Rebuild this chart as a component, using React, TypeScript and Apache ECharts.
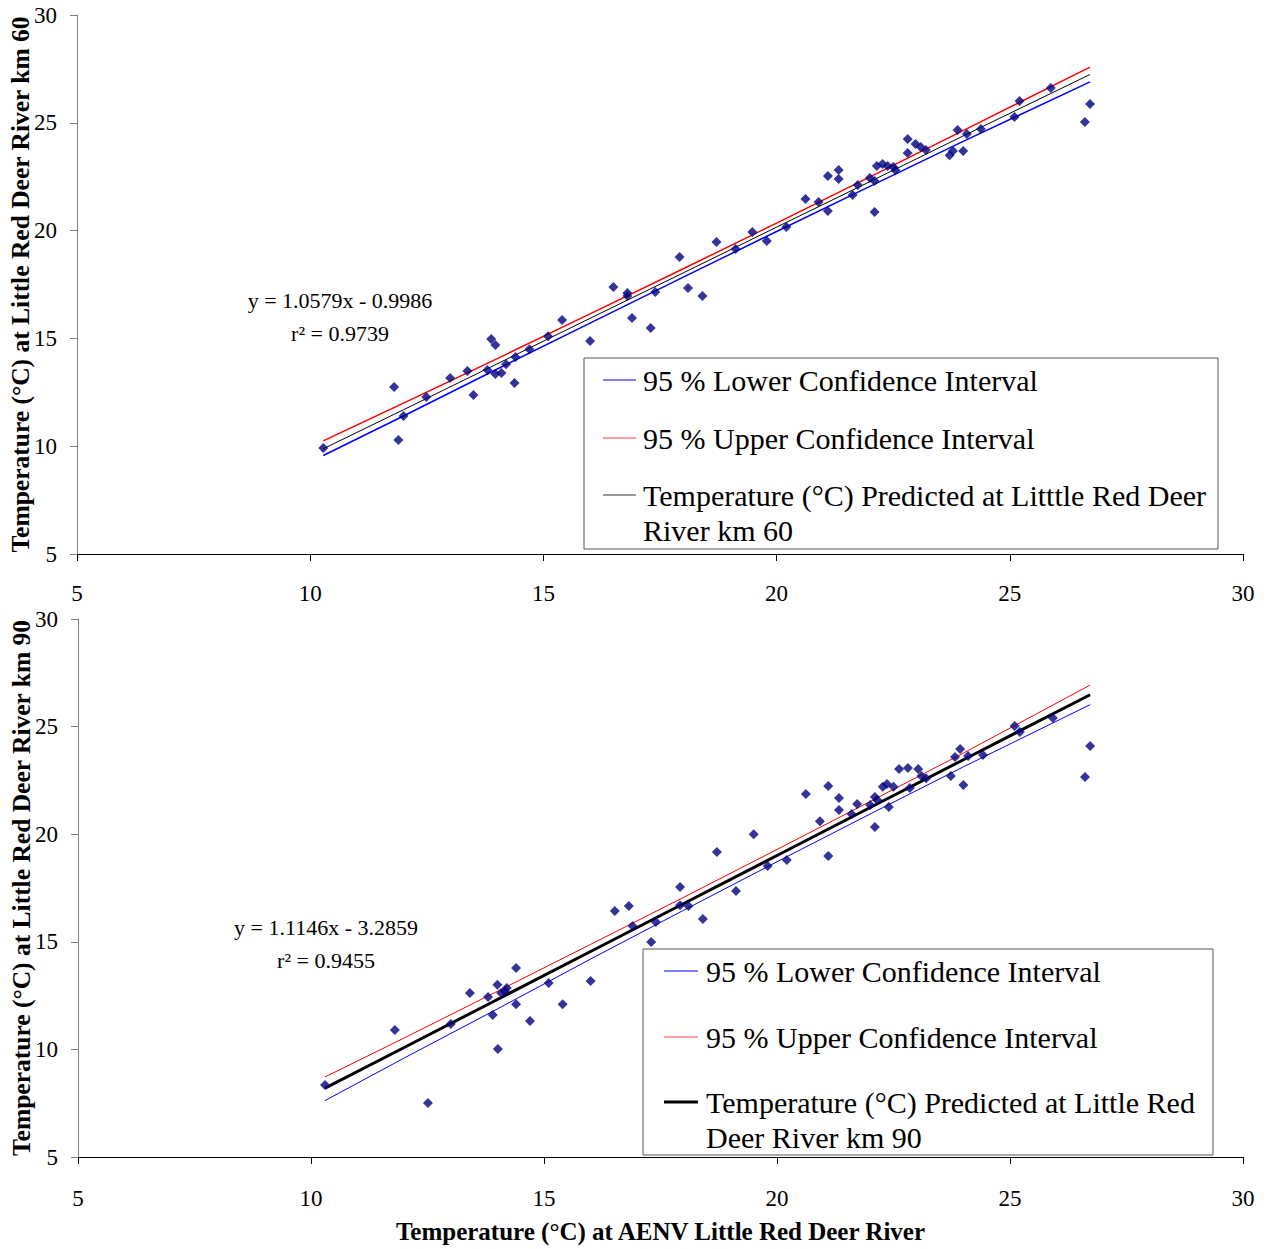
import React, { useEffect, useRef } from "react";
import * as echarts from "echarts";

// ---------- data ----------
const topX = [10.28, 11.8, 11.89, 12.0, 12.49, 13.0, 13.37, 13.5, 13.8, 13.88, 13.97, 13.97, 14.1, 14.2, 14.38, 14.4, 14.7, 15.1, 15.4, 16.0, 16.5, 16.8, 16.8, 16.9, 17.3, 17.4, 17.92, 18.1, 18.41, 18.71, 19.12, 19.48, 19.79, 20.21, 20.62, 20.9, 21.1, 21.1, 21.33, 21.33, 21.63, 21.74, 22.0, 22.1, 22.1, 22.15, 22.27, 22.38, 22.5, 22.55, 22.81, 22.81, 22.98, 23.09, 23.2, 23.71, 23.78, 23.88, 24.0, 24.08, 24.38, 25.1, 25.21, 25.88, 26.61, 26.72];
const topY = [9.92, 12.75, 10.29, 11.4, 12.28, 13.16, 13.49, 12.37, 13.53, 14.97, 14.69, 13.35, 13.4, 13.8, 12.93, 14.14, 14.5, 15.1, 15.85, 14.88, 17.38, 17.1, 16.97, 15.95, 15.48, 17.15, 18.78, 17.34, 16.97, 19.47, 19.15, 19.94, 19.52, 20.17, 21.47, 21.33, 22.53, 20.91, 22.81, 22.39, 21.65, 22.11, 22.44, 22.3, 20.86, 23.0, 23.09, 23.0, 22.95, 22.8, 24.25, 23.6, 24.02, 23.88, 23.74, 23.5, 23.69, 24.67, 23.69, 24.48, 24.71, 25.27, 26.01, 26.61, 25.04, 25.87];

const topLineX = [10.28, 12, 14, 16, 18, 20, 22, 24, 26.72];
const topPred = [9.88, 11.69, 13.81, 15.93, 18.04, 20.16, 22.27, 24.39, 27.24];
const topUpper = [10.25, 12.0, 14.05, 16.14, 18.23, 20.35, 22.49, 24.64, 27.58];
const topLower = [9.57, 11.4, 13.57, 15.71, 17.84, 19.96, 22.05, 24.14, 26.9];

const botX = [10.3, 11.8, 12.51, 13.0, 13.41, 13.8, 13.9, 14.0, 14.01, 14.08, 14.16, 14.2, 14.4, 14.4, 14.7, 15.1, 15.4, 16.0, 16.52, 16.82, 16.9, 17.3, 17.4, 17.92, 17.92, 18.1, 18.41, 18.71, 19.12, 19.5, 19.8, 20.21, 20.62, 20.92, 21.1, 21.1, 21.33, 21.33, 21.6, 21.72, 22.0, 22.1, 22.1, 22.15, 22.27, 22.36, 22.4, 22.5, 22.62, 22.81, 22.85, 23.03, 23.1, 23.2, 23.73, 23.82, 23.93, 24.0, 24.1, 24.42, 25.1, 25.21, 25.92, 26.61, 26.72];
const botY = [8.35, 10.9, 7.51, 11.18, 12.62, 12.43, 11.6, 13.0, 10.02, 12.62, 12.71, 12.85, 13.78, 12.1, 11.32, 13.08, 12.1, 13.18, 16.43, 16.66, 15.73, 14.99, 15.92, 17.55, 16.7, 16.66, 16.06, 19.17, 17.36, 20.0, 18.52, 18.8, 21.87, 20.6, 22.24, 18.99, 21.68, 21.13, 20.94, 21.4, 21.36, 21.73, 20.33, 21.59, 22.2, 22.33, 21.26, 22.2, 23.03, 23.08, 22.15, 23.03, 22.7, 22.6, 22.7, 23.59, 23.96, 22.29, 23.63, 23.68, 25.03, 24.75, 25.4, 22.66, 24.1];

const botLineX = [10.3, 12, 14, 16, 18, 20, 22, 24, 26.72];
const botPred = [8.2, 10.09, 12.32, 14.55, 16.78, 19.01, 21.24, 23.46, 26.48];
const botUpper = [8.72, 10.53, 12.7, 14.88, 17.07, 19.29, 21.52, 23.77, 26.93];
const botLower = [7.62, 9.6, 11.88, 14.2, 16.47, 18.72, 20.94, 23.13, 26.02];

const axisTicks = [5, 10, 15, 20, 25, 30];

const LOWER = "95 % Lower Confidence Interval";
const UPPER = "95 % Upper Confidence Interval";
const PRED_TOP = "Temperature (°C) Predicted at Litttle Red Deer River km 60";
const PRED_BOT = "Temperature (°C) Predicted at Little Red Deer River km 90";

const FONT = '"Liberation Serif", "Times New Roman", serif';

const zip = (xs: number[], ys: number[]) => xs.map((x, i) => [x, ys[i]]);

function xAxisCfg(gridIndex: number, name: string, labelMargin: number) {
  return {
    type: "value",
    gridIndex,
    min: axisTicks[0],
    max: axisTicks[axisTicks.length - 1],
    interval: 5,
    name,
    nameLocation: "middle",
    nameGap: 62,
    nameMoveOverlap: false,
    nameTextStyle: { fontFamily: FONT, fontSize: 25, fontWeight: "bold", color: "#000" },
    axisLine: { show: true, onZero: false, lineStyle: { color: "#000", width: 1 } },
    axisTick: { show: true, inside: false, length: 7, lineStyle: { color: "#000" } },
    axisLabel: { margin: labelMargin, fontFamily: FONT, fontSize: 23, color: "#000" },
    splitLine: { show: false },
  };
}

function yAxisCfg(gridIndex: number, name: string) {
  return {
    type: "value",
    gridIndex,
    min: axisTicks[0],
    max: axisTicks[axisTicks.length - 1],
    interval: 5,
    name,
    nameLocation: "middle",
    nameGap: 44,
    nameMoveOverlap: false,
    nameTextStyle: { fontFamily: FONT, fontSize: 25.5, fontWeight: "bold", color: "#000" },
    axisLine: { show: true, onZero: false, lineStyle: { color: "#808080", width: 1 } },
    axisTick: { show: true, inside: false, length: 7, lineStyle: { color: "#808080" } },
    axisLabel: { margin: 20, fontFamily: FONT, fontSize: 23, color: "#000" },
    splitLine: { show: false },
  };
}

function lineSeries(name: string, idx: number, xs: number[], ys: number[], color: string, width: number) {
  return {
    type: "line",
    name,
    xAxisIndex: idx,
    yAxisIndex: idx,
    data: zip(xs, ys),
    showSymbol: false,
    symbol: "none",
    lineStyle: { color, width },
    itemStyle: { color },
    z: 2,
  };
}

function scatterSeries(idx: number, xs: number[], ys: number[]) {
  return {
    type: "scatter",
    name: idx === 0 ? "Observed km 60" : "Observed km 90",
    xAxisIndex: idx,
    yAxisIndex: idx,
    data: zip(xs, ys),
    symbol: "diamond",
    symbolSize: 10,
    itemStyle: { color: "#000080" },
    z: 3,
  };
}

function legendBox(
  x: number, y: number, w: number, h: number,
  lineX1: number, lineX2: number, textX: number,
  rows: { text: string; y: number; color?: string; width?: number }[]
) {
  const els: any[] = [
    {
      type: "rect",
      shape: { x, y, width: w, height: h },
      style: { fill: "#fff", stroke: "#555", lineWidth: 1 },
      z: 10,
    },
  ];
  rows.forEach((r) => {
    if (r.color) {
      els.push({
        type: "line",
        shape: { x1: lineX1, y1: r.y, x2: lineX2, y2: r.y },
        style: { stroke: r.color, lineWidth: r.width || 1 },
        z: 11,
      });
    }
    els.push({
      type: "text",
      x: textX,
      y: r.y,
      style: {
        text: r.text,
        fontFamily: FONT,
        fontSize: 30,
        fill: "#000",
        align: "left",
        verticalAlign: "middle",
      },
      z: 11,
    });
  });
  return els;
}

function eqText(cx: number, cy: number, text: string) {
  return {
    type: "text",
    x: cx,
    y: cy,
    style: { text, fontFamily: FONT, fontSize: 22, fill: "#000", align: "center", verticalAlign: "middle" },
    z: 11,
  };
}

export default function App() {
  const ref = useRef<HTMLDivElement>(null);
  useEffect(() => {
    if (!ref.current) return;
    const chart = echarts.init(ref.current, undefined, { renderer: "svg" });
    const option: any = {
      animation: false,
      backgroundColor: "#fff",
      grid: [
        { left: 77, top: 15, width: 1166, height: 539, outerBoundsMode: "none", containLabel: false },
        { left: 78, top: 619, width: 1165, height: 538, outerBoundsMode: "none", containLabel: false },
      ],
      xAxis: [xAxisCfg(0, "", 28), xAxisCfg(1, "Temperature (°C) at AENV Little Red Deer River", 30)],
      yAxis: [
        yAxisCfg(0, "Temperature (°C) at Little Red Deer River km 60"),
        yAxisCfg(1, "Temperature (°C) at Little Red Deer River km 90"),
      ],
      series: [
        lineSeries(LOWER, 0, topLineX, topLower, "#0000ff", 1.5),
        lineSeries(UPPER, 0, topLineX, topUpper, "#ff0000", 1.5),
        lineSeries(PRED_TOP, 0, topLineX, topPred, "#000000", 1),
        scatterSeries(0, topX, topY),
        lineSeries(LOWER + " ", 1, botLineX, botLower, "#0000ff", 1),
        lineSeries(UPPER + " ", 1, botLineX, botUpper, "#ff0000", 1),
        lineSeries(PRED_BOT, 1, botLineX, botPred, "#000000", 3),
        scatterSeries(1, botX, botY),
      ],
      graphic: [
        eqText(340, 300, "y = 1.0579x - 0.9986"),
        eqText(340, 333, "r² = 0.9739"),
        eqText(326, 927, "y = 1.1146x - 3.2859"),
        eqText(326, 960, "r² = 0.9455"),
        ...legendBox(584, 358, 634, 191, 603, 636, 643, [
          { text: LOWER, y: 380, color: "#0000ff", width: 1 },
          { text: UPPER, y: 438, color: "#ff4040", width: 1 },
          { text: "Temperature (°C) Predicted at Litttle Red Deer", y: 495, color: "#333", width: 1 },
          { text: "River km 60", y: 530 },
        ]),
        ...legendBox(643, 949, 570, 206, 664, 698, 706, [
          { text: LOWER, y: 971, color: "#0000ff", width: 1 },
          { text: UPPER, y: 1037, color: "#ff4040", width: 1 },
          { text: "Temperature (°C) Predicted at Little Red", y: 1102, color: "#000", width: 3 },
          { text: "Deer River km 90", y: 1137 },
        ]),
      ],
    };
    chart.setOption(option);
    return () => chart.dispose();
  }, []);
  return (
    <div
      ref={ref}
      style={{ position: "absolute", left: 0, top: 0, width: 1270, height: 1249, background: "#fff" }}
    />
  );
}
